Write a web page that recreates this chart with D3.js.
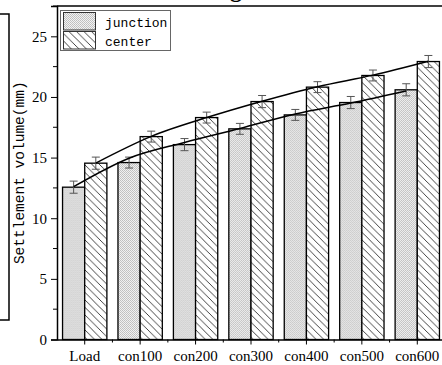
<!DOCTYPE html>
<html>
<head>
<meta charset="utf-8">
<script src="https://cdn.jsdelivr.net/npm/d3@7"></script>
<style>
  body { margin: 0; background: #fff; }
  svg { display: block; }
</style>
</head>
<body>
<div id="chart"></div>
<script>
const categories = ['Load', 'con100', 'con200', 'con300', 'con400', 'con500', 'con600'];
const seriesNames = ['junction', 'center'];
const junction = [12.56, 14.59, 16.07, 17.37, 18.52, 19.54, 20.59];
const center = [14.54, 16.73, 18.3, 19.62, 20.81, 21.77, 22.92];
const junctionErr = [0.5, 0.45, 0.5, 0.45, 0.45, 0.5, 0.5];
const centerErr = [0.5, 0.45, 0.45, 0.5, 0.45, 0.45, 0.5];
// trend curves drawn over the bars
const junctionTrend = [12.6, 14.95, 16.25, 17.4, 18.6, 19.5, 20.5];
const centerTrend = [14.55, 16.75, 18.3, 19.65, 20.85, 21.8, 22.95];
const yTicks = [0, 5, 10, 15, 20, 25];

const width = 442, height = 365;
const plotLeft = 57, plotTop = 6, plotBottom = 339.5;

const svg = d3.select('#chart').append('svg')
  .attr('width', width)
  .attr('height', height);

const defs = svg.append('defs');

// stipple fill for junction
const dots = defs.append('pattern')
  .attr('id', 'dots')
  .attr('patternUnits', 'userSpaceOnUse')
  .attr('width', 2).attr('height', 2);
dots.append('rect').attr('width', 2).attr('height', 2).attr('fill', '#f2f2f2');
dots.append('rect').attr('width', 1).attr('height', 1).attr('fill', '#bdbdbd');
dots.append('rect').attr('x', 1).attr('y', 1).attr('width', 1).attr('height', 1).attr('fill', '#c4c4c4');

// back-slash hatch for center
const hatch = defs.append('pattern')
  .attr('id', 'hatch')
  .attr('patternUnits', 'userSpaceOnUse')
  .attr('width', 7.5).attr('height', 7.5);
hatch.append('rect').attr('width', 7.5).attr('height', 7.5).attr('fill', '#fff');
hatch.append('path')
  .attr('d', 'M0,0 L7.5,7.5 M-1,6.5 L1,8.5 M6.5,-1 L8.5,1')
  .attr('stroke', '#222')
  .attr('stroke-width', 0.85);

const fills = { junction: 'url(#dots)', center: 'url(#hatch)' };

const x = d3.scaleBand()
  .domain(categories)
  .range([plotLeft, 445])
  .paddingInner(0.2)
  .paddingOuter(0.1);

const x1 = d3.scaleBand()
  .domain(seriesNames)
  .range([0, x.bandwidth()]);

const y = d3.scaleLinear()
  .domain([0, 27.5])
  .range([plotBottom, plotTop]);

// title of the panel, cut off by the top edge (only a descender shows)
svg.append('text')
  .attr('x', 242)
  .attr('y', -3)
  .attr('text-anchor', 'end')
  .attr('font-family', 'Liberation Serif')
  .attr('font-weight', 'bold')
  .attr('font-size', '24px')
  .text('Settlement of lining');

// frame of the neighbouring panel on the left
svg.append('path')
  .attr('d', 'M0,14 H9 V320 H0')
  .attr('fill', 'none')
  .attr('stroke', '#000')
  .attr('stroke-width', 1.5);

// bars
const data = categories.map((c, i) => ({
  cat: c,
  values: [
    { key: 'junction', v: junction[i], e: junctionErr[i] },
    { key: 'center', v: center[i], e: centerErr[i] }
  ]
}));

const groups = svg.append('g').selectAll('g')
  .data(data)
  .join('g')
  .attr('transform', d => `translate(${x(d.cat)},0)`);

groups.selectAll('rect')
  .data(d => d.values)
  .join('rect')
  .attr('x', d => x1(d.key))
  .attr('y', d => y(d.v))
  .attr('width', x1.bandwidth())
  .attr('height', d => y(0) - y(d.v))
  .attr('fill', d => fills[d.key])
  .attr('stroke', '#000')
  .attr('stroke-width', 1.3);

// error bars
const err = groups.selectAll('g.err')
  .data(d => d.values)
  .join('g')
  .attr('class', 'err')
  .attr('transform', d => `translate(${x1(d.key) + x1.bandwidth() / 2},0)`)
  .attr('stroke', '#555')
  .attr('stroke-width', 1);
err.append('line')
  .attr('y1', d => y(d.v + d.e)).attr('y2', d => y(d.v - d.e));
err.append('line')
  .attr('x1', -4).attr('x2', 4)
  .attr('y1', d => y(d.v + d.e)).attr('y2', d => y(d.v + d.e));
err.append('line')
  .attr('x1', -4).attr('x2', 4)
  .attr('y1', d => y(d.v - d.e)).attr('y2', d => y(d.v - d.e));

// trend curves
const line = d3.line()
  .x(d => d[0])
  .y(d => y(d[1]))
  .curve(d3.curveMonotoneX);

[['junction', junctionTrend], ['center', centerTrend]].forEach(([key, vals]) => {
  const pts = categories.map((c, i) => [x(c) + x1(key) + x1.bandwidth() / 2, vals[i]]);
  svg.append('path')
    .attr('d', line(pts))
    .attr('fill', 'none')
    .attr('stroke', '#000')
    .attr('stroke-width', 1.5);
});

// y axis
const yAxis = svg.append('g')
  .attr('transform', `translate(${plotLeft},0)`)
  .call(d3.axisLeft(y).tickValues(yTicks).tickSize(6).tickPadding(4));
yAxis.select('.domain').attr('stroke-width', 1.5);
yAxis.selectAll('text')
  .attr('font-family', 'Liberation Serif')
  .attr('font-size', '15px')
  .attr('fill', '#000');

// minor y ticks
svg.append('g').selectAll('line')
  .data(yTicks.map(t => t + 2.5))
  .join('line')
  .attr('x1', plotLeft - 4).attr('x2', plotLeft)
  .attr('y1', d => y(d)).attr('y2', d => y(d))
  .attr('stroke', '#000');

// x axis
const xAxis = svg.append('g')
  .attr('transform', `translate(0,${plotBottom})`)
  .call(d3.axisBottom(x).tickSize(5).tickPadding(6).tickSizeOuter(0));
xAxis.select('.domain').attr('stroke-width', 1.5);
xAxis.selectAll('text')
  .attr('font-family', 'Liberation Serif')
  .attr('font-size', '15px')
  .attr('fill', '#000');

// minor x ticks between groups
svg.append('g').selectAll('line')
  .data(categories.slice(0, -1))
  .join('line')
  .attr('x1', d => x(d) + x.bandwidth() + (x.step() - x.bandwidth()) / 2)
  .attr('x2', d => x(d) + x.bandwidth() + (x.step() - x.bandwidth()) / 2)
  .attr('y1', plotBottom).attr('y2', plotBottom + 3)
  .attr('stroke', '#000');

// top frame line
svg.append('line')
  .attr('x1', plotLeft).attr('x2', 445)
  .attr('y1', plotTop).attr('y2', plotTop)
  .attr('stroke', '#000')
  .attr('stroke-width', 1.5);

// y label
svg.append('text')
  .attr('transform', `translate(24,${(plotTop + plotBottom) / 2}) rotate(-90)`)
  .attr('text-anchor', 'middle')
  .attr('font-family', 'Liberation Mono')
  .attr('font-size', '14.5px')
  .attr('fill', '#000')
  .text('Settlement volume(mm)');

// legend
const legend = svg.append('g');
legend.append('rect')
  .attr('x', 60.5).attr('y', 10.5)
  .attr('width', 110).attr('height', 40)
  .attr('fill', '#fff')
  .attr('stroke', '#666');

seriesNames.forEach((name, i) => {
  legend.append('rect')
    .attr('x', 63.5).attr('y', 12.5 + i * 19)
    .attr('width', 32).attr('height', 17.5)
    .attr('fill', fills[name])
    .attr('stroke', '#333');
  legend.append('text')
    .attr('x', 105).attr('y', 27 + i * 19)
    .attr('font-family', 'Liberation Mono')
    .attr('font-size', '13px')
    .attr('fill', '#000')
    .text(name);
});
</script>
</body>
</html>
